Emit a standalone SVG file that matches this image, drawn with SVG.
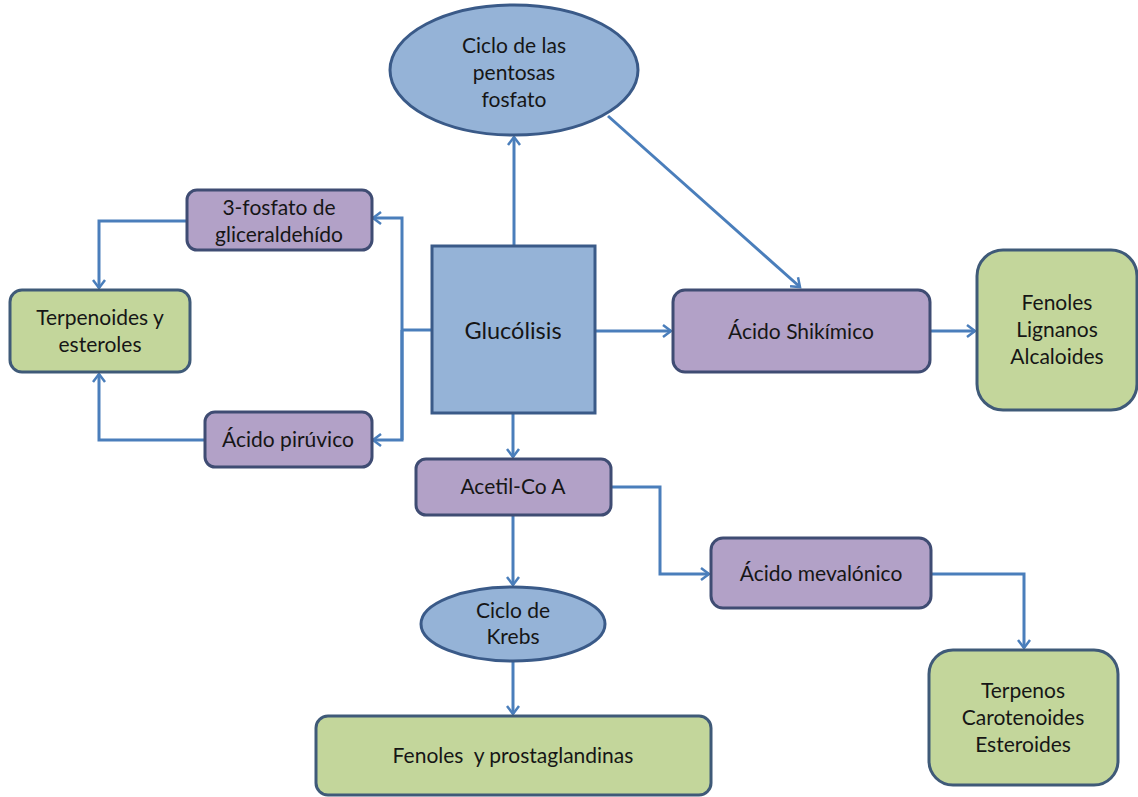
<svg xmlns="http://www.w3.org/2000/svg" width="1138" height="797" viewBox="0 0 1138 797">
<defs>
<marker id="ah" markerWidth="14" markerHeight="14" refX="10" refY="7" orient="auto" markerUnits="userSpaceOnUse">
<path d="M2,1 L10,7 L2,13" fill="none" stroke="#4A7EBB" stroke-width="2.5" stroke-linejoin="miter"/>
</marker>
</defs>
<style>
.blue{fill:#95B3D7;stroke:#3A5A88;stroke-width:3}
.purple{fill:#B2A1C7;stroke:#3F4C73;stroke-width:3}
.green{fill:#C3D69B;stroke:#3F5A78;stroke-width:3}
.t{font-family:Lato,"Open Sans","Liberation Sans",sans-serif;font-size:21px;fill:#161616;text-anchor:middle}
.c{fill:none;stroke:#4A7EBB;stroke-width:3;marker-end:url(#ah)}
.cn{fill:none;stroke:#4A7EBB;stroke-width:3}
</style>
<rect width="1138" height="797" fill="#ffffff"/>
<g id="connectors">
<path class="c" d="M514,245 V137"/>
<path class="c" d="M608,116 L800,287"/>
<path class="c" d="M595,331 H671"/>
<path class="c" d="M930,331 H975"/>
<path class="cn" d="M432,330 H402"/>
<path class="c" d="M402,440 V218 H373"/>
<path class="c" d="M402,330 V440 H373"/>
<path class="c" d="M187,221 H99 V288"/>
<path class="c" d="M205,440 H99 V374"/>
<path class="c" d="M513,413 V457"/>
<path class="c" d="M513,515 V585"/>
<path class="c" d="M513,662 V714"/>
<path class="c" d="M611,487 H660 V574 H709"/>
<path class="c" d="M931,574 H1024 V648"/>
</g>
<g id="n-pentosas">
<ellipse class="blue" cx="514" cy="70" rx="124" ry="65"/>
<text class="t" x="514" y="53">Ciclo de las</text>
<text class="t" x="514" y="80">pentosas</text>
<text class="t" x="514" y="107">fosfato</text>
</g>
<g id="n-glucolisis">
<rect class="blue" x="432" y="246" width="163" height="167"/>
<text class="t" x="513" y="339" style="font-size:23.5px">Glucólisis</text>
</g>
<g id="n-shikimico">
<rect class="purple" x="673" y="290" width="257" height="82" rx="12"/>
<text class="t" x="801" y="339">Ácido Shikímico</text>
</g>
<g id="n-fenoles-lignanos">
<rect class="green" x="977" y="250" width="160" height="160" rx="26"/>
<text class="t" x="1057" y="310">Fenoles</text>
<text class="t" x="1057" y="337">Lignanos</text>
<text class="t" x="1057" y="364">Alcaloides</text>
</g>
<g id="n-gliceraldehido">
<rect class="purple" x="187" y="190" width="185" height="60" rx="10"/>
<text class="t" x="279" y="215">3-fosfato de</text>
<text class="t" x="279" y="242">gliceraldehído</text>
</g>
<g id="n-terpenoides">
<rect class="green" x="10" y="290" width="180" height="82" rx="12"/>
<text class="t" x="100" y="325">Terpenoides y</text>
<text class="t" x="100" y="352">esteroles</text>
</g>
<g id="n-piruvico">
<rect class="purple" x="205" y="412" width="167" height="55" rx="10"/>
<text class="t" x="288" y="447">Ácido pirúvico</text>
</g>
<g id="n-acetil">
<rect class="purple" x="416" y="459" width="195" height="56" rx="10"/>
<text class="t" x="513" y="494">Acetil-Co A</text>
</g>
<g id="n-krebs">
<ellipse class="blue" cx="513" cy="624" rx="92" ry="37"/>
<text class="t" x="513" y="618">Ciclo de</text>
<text class="t" x="513" y="644">Krebs</text>
</g>
<g id="n-prostaglandinas">
<rect class="green" x="316" y="716" width="395" height="79" rx="12"/>
<text class="t" x="513" y="763" xml:space="preserve">Fenoles  y prostaglandinas</text>
</g>
<g id="n-mevalonico">
<rect class="purple" x="711" y="538" width="220" height="70" rx="12"/>
<text class="t" x="821" y="581">Ácido mevalónico</text>
</g>
<g id="n-terpenos">
<rect class="green" x="929" y="650" width="189" height="135" rx="24"/>
<text class="t" x="1023" y="698">Terpenos</text>
<text class="t" x="1023" y="725">Carotenoides</text>
<text class="t" x="1023" y="752">Esteroides</text>
</g>
</svg>
